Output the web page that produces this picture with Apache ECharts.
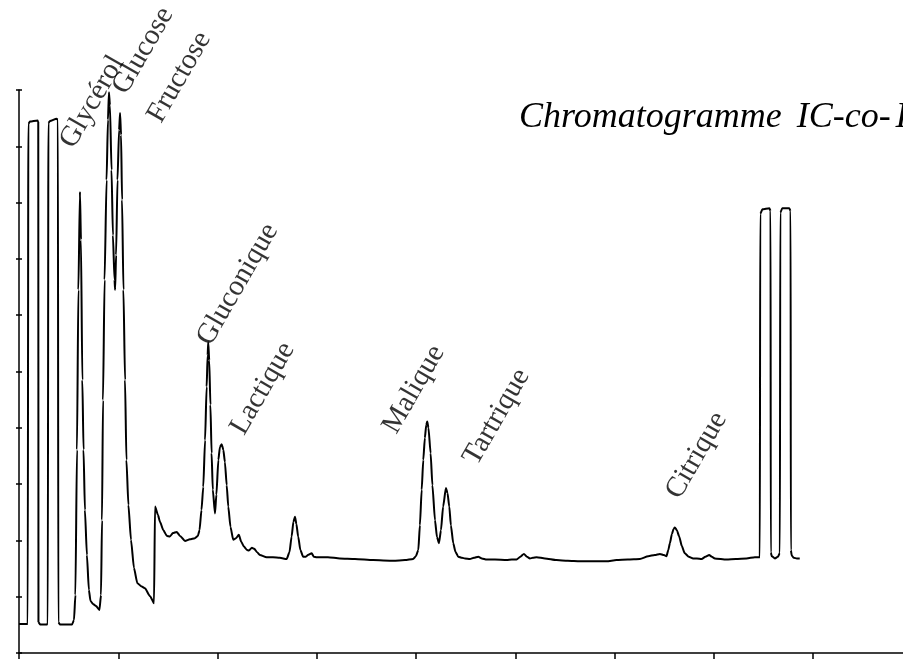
<!DOCTYPE html>
<html>
<head>
<meta charset="utf-8">
<script src="https://cdn.jsdelivr.net/npm/echarts@6/dist/echarts.min.js"></script>
<style>
  html, body { margin: 0; padding: 0; background: #fff; }
  #chart { width: 903px; height: 659px; }
</style>
</head>
<body>
<div id="chart"></div>
<script>
// Detector trace: [retention time (min), signal (% of full scale)]
const chromatogram = [
  [0,5.15],[0.44,5.15],[0.47,94.0],[0.55,94.4],[0.93,94.6],[0.97,94.3],[0.98,5.5],[1.06,5.06],[1.38,5.06],[1.45,5.15],
  [1.48,94.1],[1.56,94.5],[1.89,94.9],[1.96,94.7],[1.98,5.5],[2.06,5.06],[2.67,5.06],[2.77,5.86],[2.84,10.3],[2.92,36.1],
  [2.99,64.5],[3.07,81.9],[3.12,73.4],[3.19,48.5],[3.25,36.1],[3.32,25.4],[3.42,17.4],[3.52,11.2],[3.60,9.24],[3.73,8.70],
  [3.88,8.35],[4.05,7.64],[4.13,10.3],[4.18,23.6],[4.23,44.9],[4.31,66.3],[4.41,84.0],[4.48,94.7],[4.53,99.6],[4.58,97.3],
  [4.66,85.8],[4.73,74.2],[4.81,66.3],[4.84,64.5],[4.89,70.7],[4.96,84.0],[5.04,92.9],[5.09,95.9],[5.14,92.0],[5.19,80.5],
  [5.26,64.5],[5.34,48.5],[5.41,34.3],[5.51,26.3],[5.64,20.1],[5.79,15.1],[5.96,12.4],[6.18,11.8],[6.34,11.5],[6.60,10.1],
  [6.80,8.83],[6.85,26.0],[7.00,24.5],[7.10,23.3],[7.27,21.8],[7.45,20.8],[7.60,20.7],[7.75,21.3],[7.94,21.5],[8.11,20.8],
  [8.36,19.9],[8.61,20.2],[8.86,20.4],[9.01,20.8],[9.09,21.8],[9.19,25.4],[9.28,29.5],[9.37,37.8],[9.45,47.3],[9.50,52.9],
  [9.53,55.2],[9.58,52.0],[9.64,44.1],[9.70,35.5],[9.76,29.0],[9.87,24.8],[9.94,28.1],[10.04,34.3],[10.12,36.6],[10.21,37.1],
  [10.29,36.1],[10.37,33.9],[10.46,29.8],[10.54,26.0],[10.65,22.4],[10.79,20.1],[10.93,20.4],[11.07,21.0],[11.20,19.7],[11.33,18.9],
  [11.48,18.3],[11.58,18.2],[11.73,18.7],[11.85,18.5],[11.99,17.9],[12.13,17.4],[12.47,17.0],[12.79,17.0],[13.14,16.9],[13.48,16.7],
  [13.62,17.9],[13.73,20.7],[13.82,23.3],[13.90,24.2],[13.97,22.9],[14.06,20.7],[14.17,18.3],[14.31,17.1],[14.45,17.1],[14.55,17.4],
  [14.74,17.7],[14.85,17.1],[14.99,17.0],[15.56,17.0],[16.16,16.8],[16.92,16.7],[17.84,16.5],[18.85,16.4],[19.44,16.5],[19.85,16.7],
  [19.99,17.2],[20.11,18.3],[20.19,22.7],[20.28,29.0],[20.36,34.3],[20.44,38.2],[20.51,40.5],[20.56,41.1],[20.62,40.0],[20.73,35.5],
  [20.82,29.8],[20.95,23.6],[21.05,20.6],[21.15,19.5],[21.25,21.8],[21.36,26.0],[21.50,29.3],[21.58,28.4],[21.67,26.0],[21.75,22.7],
  [21.87,19.5],[21.98,18.0],[22.12,17.1],[22.31,16.9],[22.46,16.8],[22.71,16.7],[22.91,16.9],[23.13,17.1],[23.31,16.8],[23.55,16.6],
  [23.97,16.6],[24.56,16.5],[24.82,16.6],[25.06,16.6],[25.25,17.1],[25.43,17.6],[25.58,17.1],[25.73,16.8],[25.88,16.9],[26.07,17.0],
  [26.49,16.8],[27.07,16.5],[27.64,16.4],[28.25,16.3],[29.00,16.3],[29.59,16.3],[30.09,16.5],[30.66,16.6],[31.27,16.7],[31.69,17.2],
  [32.02,17.4],[32.28,17.6],[32.48,17.4],[32.61,17.2],[32.70,18.3],[32.78,19.5],[32.88,21.1],[32.96,22.0],[33.03,22.3],[33.13,21.8],
  [33.25,20.7],[33.38,19.0],[33.53,17.7],[33.73,17.1],[33.95,16.8],[34.14,16.8],[34.38,16.7],[34.57,17.1],[34.76,17.4],[34.89,17.1],
  [35.04,16.8],[35.63,16.6],[36.10,16.7],[36.64,16.8],[37.06,17.0],[37.31,17.0],[37.33,78.0],[37.44,78.8],[37.79,79.0],[37.85,78.5],
  [37.86,17.9],[37.91,17.2],[38.07,16.8],[38.22,17.1],[38.32,17.8],[38.34,78.2],[38.44,79.0],[38.79,79.0],[38.86,78.5],[38.87,18.3],
  [38.92,17.3],[39.02,16.9],[39.17,16.8],[39.32,16.8]
];

// Compound names and where each name is anchored (time, signal)
const compoundNames = ['Glycérol', 'Glucose', 'Fructose', 'Gluconique', 'Lactique', 'Malique', 'Tartrique', 'Citrique'];
const nameTime      = [3.05, 5.69, 7.45, 9.95, 11.63, 19.30, 23.36, 33.56];
const nameSignal    = [88.8, 98.4, 93.3, 53.8, 37.9, 38.1, 32.5, 26.5];

// Time axis: visible window and tick positions (min)
const timeMax = 44.52;
const timeTicks = [0, 5, 10, 15, 20, 25, 30, 35, 40];

// Title words, set with slightly wider word and hyphen spacing
const titleWord = 'Chromatogramme ';
const titleMethod = 'IC-co-';
const titleDetector = 'HPLC';

const chart = echarts.init(document.getElementById('chart'), null, { renderer: 'canvas' });

const serif = '"Liberation Serif", "Times New Roman", serif';
const axisLine = { show: true, onZero: false, lineStyle: { color: '#000', width: 1.5 } };
const titleFont = { fontFamily: serif, fontStyle: 'italic', fontWeight: 'normal', fontSize: 36, color: '#000' };

chart.setOption({
  backgroundColor: '#fff',
  animation: false,
  title: {
    text: '{w|' + titleWord + '}{m|' + titleMethod + '}{d|' + titleDetector + '}',
    left: 519,
    top: 100,
    padding: 0,
    textStyle: Object.assign({}, titleFont, {
      rich: {
        w: Object.assign({}, titleFont),
        m: Object.assign({}, titleFont, { padding: [0, 0, 0, 6] }),
        d: Object.assign({}, titleFont, { padding: [0, 0, 0, 5] })
      }
    })
  },
  grid: { left: 19, top: 90, bottom: 6, right: 0, containLabel: false },
  xAxis: {
    type: 'value', min: 0, max: timeMax, interval: 5,
    axisLine: axisLine,
    axisTick: { show: true, inside: false, length: 6, customValues: timeTicks, lineStyle: { color: '#000', width: 1.5 } },
    axisLabel: { show: false },
    splitLine: { show: false }
  },
  yAxis: [
    {
      type: 'value', min: 0, max: 100, interval: 10,
      axisLine: axisLine,
      axisTick: { show: true, inside: false, length: 3, lineStyle: { color: '#000', width: 1.5 } },
      axisLabel: { show: false },
      splitLine: { show: false }
    },
    {
      type: 'value', min: 0, max: 100, interval: 10, position: 'left',
      axisLine: { show: false },
      axisTick: { show: true, inside: true, length: 3, lineStyle: { color: '#000', width: 1.5 } },
      axisLabel: { show: false },
      splitLine: { show: false }
    }
  ],
  series: [
    {
      type: 'line',
      data: chromatogram,
      showSymbol: false,
      smooth: 0.2,
      smoothMonotone: 'x',
      clip: false,
      lineStyle: { color: '#000', width: 2 },
      silent: true
    },
    {
      type: 'scatter',
      data: compoundNames.map((n, i) => ({ name: n, value: [nameTime[i], nameSignal[i]] })),
      symbolSize: 0,
      clip: false,
      silent: true,
      label: {
        show: true,
        formatter: '{b}',
        position: [0, 0],
        align: 'left',
        verticalAlign: 'bottom',
        rotate: 60,
        fontFamily: serif,
        fontSize: 29,
        color: '#000'
      }
    }
  ]
});
</script>
</body>
</html>
